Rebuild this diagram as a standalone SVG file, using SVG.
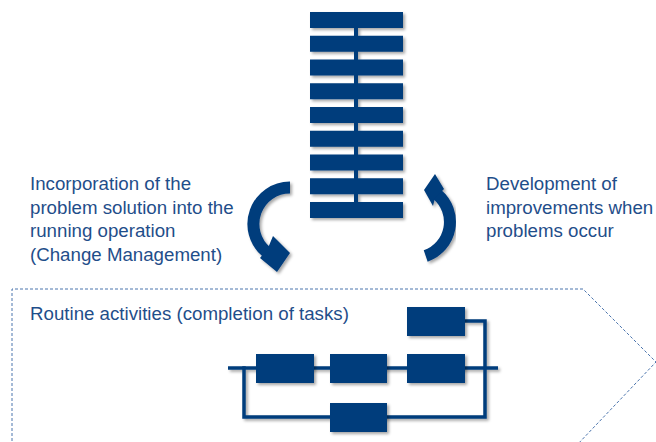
<svg xmlns="http://www.w3.org/2000/svg" width="656" height="442" viewBox="0 0 656 442">
  <defs>
    <filter id="sh" x="-20%" y="-20%" width="140%" height="140%">
      <feDropShadow dx="2" dy="2" stdDeviation="1.5" flood-color="#000" flood-opacity="0.35"/>
    </filter>
  </defs>
  <style>
    .fill { fill: #003C7C; }
    .band { fill: none; stroke: #003C7C; stroke-linecap: butt; }
    .ln { stroke: #003C7C; stroke-width: 3.5; fill: none; stroke-linecap: butt; }
    .txt { font-family: "Liberation Sans", Arial, sans-serif; font-size: 18.7px; fill: #1F4E8A; }
    .dash { fill: none; stroke: #4A74AD; stroke-width: 1; stroke-dasharray: 3 2; }
  </style>

  <rect width="656" height="442" fill="#ffffff"/>

  <!-- Tower -->
  <g id="tower" filter="url(#sh)">
    <rect class="fill" x="354" y="20" width="4" height="190"/>
    <rect class="fill" x="310" y="12" width="93" height="16"/>
    <rect class="fill" x="310" y="35.75" width="93" height="16"/>
    <rect class="fill" x="310" y="59.5" width="93" height="16"/>
    <rect class="fill" x="310" y="83.25" width="93" height="16"/>
    <rect class="fill" x="310" y="107" width="93" height="16"/>
    <rect class="fill" x="310" y="130.75" width="93" height="16"/>
    <rect class="fill" x="310" y="154.5" width="93" height="16"/>
    <rect class="fill" x="310" y="178.25" width="93" height="16"/>
    <rect class="fill" x="310" y="202" width="93" height="16"/>
  </g>

  <!-- Circular arrows -->
  <g id="arrow-left" filter="url(#sh)">
    <path class="band" stroke-width="12" d="M290,187.5 A36.5,36.5 0 0 0 266.5,252"/>
    <polygon class="fill" points="260,258 277,272 290,253 273,236 268,248"/>
  </g>
  <g id="arrow-right" filter="url(#sh)">
    <path class="band" stroke-width="12" d="M425.7,256 A36,36 0 0 0 437.1,194.4"/>
    <polygon class="fill" points="444,189 435,174 424,190 433,206 435,198"/>
  </g>

  <!-- Side texts -->
  <g id="text-left">
    <text class="txt" x="30" y="190">Incorporation of the</text>
    <text class="txt" x="30" y="213.5">problem solution into the</text>
    <text class="txt" x="30" y="237">running operation</text>
    <text class="txt" x="30" y="260.5">(Change Management)</text>
  </g>
  <g id="text-right">
    <text class="txt" x="486" y="190">Development of</text>
    <text class="txt" x="486" y="213.5">improvements when</text>
    <text class="txt" x="486" y="237">problems occur</text>
  </g>

  <!-- Routine activities area -->
  <g id="routine-area">
    <path class="dash" d="M12,446 L12,289 L583,289 L656,362 L576,446"/>
    <text class="txt" x="30" y="320">Routine activities (completion of tasks)</text>
  </g>

  <!-- Network connectors -->
  <g id="connectors" filter="url(#sh)">
    <path class="ln" d="M228,368 L498,368"/>
    <path class="ln" d="M465,321 L485,321 L485,417 L244,417 L244,366.25"/>
  </g>

  <!-- Task nodes -->
  <g id="task-1" filter="url(#sh)"><rect class="fill" x="256" y="354" width="58" height="29"/></g>
  <g id="task-2" filter="url(#sh)"><rect class="fill" x="330" y="354" width="57" height="29"/></g>
  <g id="task-3" filter="url(#sh)"><rect class="fill" x="407" y="354" width="58" height="29"/></g>
  <g id="task-top" filter="url(#sh)"><rect class="fill" x="407" y="307" width="58" height="29"/></g>
  <g id="task-bottom" filter="url(#sh)"><rect class="fill" x="330" y="403" width="57" height="29"/></g>
</svg>
